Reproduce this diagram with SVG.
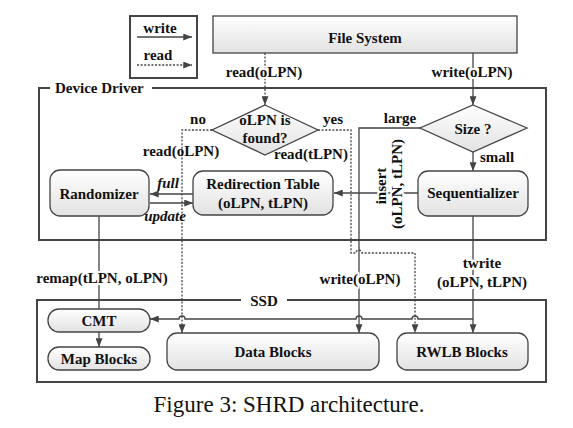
<svg xmlns="http://www.w3.org/2000/svg" width="573" height="428" viewBox="0 0 573 428">
<defs>
<linearGradient id="g" x1="0" y1="0" x2="0" y2="1">
<stop offset="0" stop-color="#ffffff"/>
<stop offset="1" stop-color="#e2e2e2"/>
</linearGradient>
<marker id="ar" viewBox="0 0 10 8" refX="10" refY="4" markerWidth="9" markerHeight="7" markerUnits="userSpaceOnUse" orient="auto">
<path d="M0,0 L10,4 L0,8 Z" fill="#444"/>
</marker>
<style>
text{font-family:"Liberation Serif","Times New Roman",serif;font-weight:bold;font-size:15px;fill:#111}
.c{text-anchor:middle}
.i{font-style:italic}
.h{stroke:#fff;stroke-width:4;paint-order:stroke;stroke-linejoin:round}
.node{fill:url(#g);stroke:#444;stroke-width:1.3}
.frame{fill:none;stroke:#444;stroke-width:2}
.w{fill:none;stroke:#444;stroke-width:1.3}
.r{fill:none;stroke:#444;stroke-width:1.3;stroke-dasharray:2,1.6}
.cap{font-weight:normal;font-size:23px;fill:#111}
</style>
</defs>

<g id="frames">
<rect class="frame" x="39" y="88" width="507" height="152"/>
<rect x="50" y="80" width="102" height="16" fill="#fff"/>
<text x="55" y="93">Device Driver</text>
<rect class="frame" x="37" y="300" width="509" height="82"/>
<rect x="241" y="292" width="46" height="16" fill="#fff"/>
<text class="c" x="264" y="306">SSD</text>
</g>

<g id="legend">
<rect x="130" y="16" width="67" height="62" fill="#fff" stroke="#444" stroke-width="2"/>
<text class="c" x="160" y="33">write</text>
<line class="w" x1="137" y1="37" x2="192" y2="37" marker-end="url(#ar)"/>
<text class="c" x="158" y="60">read</text>
<line class="r" x1="137" y1="65" x2="192" y2="65" marker-end="url(#ar)"/>
</g>

<g id="connectors">
<line class="r" x1="265" y1="53" x2="265" y2="105" marker-end="url(#ar)"/>
<line class="w" x1="473" y1="53" x2="473" y2="105" marker-end="url(#ar)"/>
<path class="r" d="M212,130 H182 V333" marker-end="url(#ar)"/>
<path class="r" d="M318,130 H351 V253 H356 A3,3 0 0 1 362,253 H415 V333" marker-end="url(#ar)"/>
<path class="w" d="M421,128 H359 V333" marker-end="url(#ar)"/>
<line class="w" x1="473" y1="152" x2="473" y2="171" marker-end="url(#ar)"/>
<line class="w" x1="418" y1="193" x2="334" y2="193" marker-end="url(#ar)"/>
<line class="w" x1="193" y1="194" x2="150" y2="194" marker-end="url(#ar)"/>
<line class="w" x1="150" y1="203" x2="193" y2="203" marker-end="url(#ar)"/>
<line class="w" x1="99" y1="216" x2="99" y2="309"/>
<line class="w" x1="99" y1="332" x2="99" y2="347" marker-end="url(#ar)"/>
<line class="w" x1="473" y1="216" x2="473" y2="333" marker-end="url(#ar)"/>
<path class="w" d="M473,319 H418 A3,3 0 0 0 412,319 H362 A3,3 0 0 0 356,319 H185 A3,3 0 0 0 179,319 H150" marker-end="url(#ar)"/>
<text class="c h" x="264" y="77">read(oLPN)</text>
<text class="c h" x="472" y="77">write(oLPN)</text>
<text class="c" x="198" y="124">no</text>
<text class="c" x="333" y="124">yes</text>
<text class="c" x="400" y="123">large</text>
<text x="480" y="162">small</text>
<text class="c" x="181" y="156">read(oLPN)</text>
<text class="c" x="311" y="159">read(tLPN)</text>
<text class="c i" x="168" y="188">full</text>
<text class="c i" x="165" y="221">update</text>
<text class="c h" transform="translate(386,186) rotate(-90)" x="0" y="0">insert</text>
<text class="c h" transform="translate(402,184) rotate(-90)" x="0" y="0">(oLPN, tLPN)</text>
<text class="c h" x="102" y="283">remap(tLPN, oLPN)</text>
<text class="c h" x="360" y="284">write(oLPN)</text>
<text class="c h" x="482" y="268">twrite</text>
<text class="c h" x="482" y="287">(oLPN, tLPN)</text>
</g>

<g id="filesystem">
<rect class="node" x="213" y="16" width="304" height="37" stroke-width="2"/>
<text class="c" x="365" y="43">File System</text>
</g>

<g id="olpn-found">
<polygon class="node" points="265,105 318,130 265,155 212,130"/>
<text class="c" x="265" y="125">oLPN is</text>
<text class="c" x="265" y="143">found?</text>
</g>

<g id="size">
<polygon class="node" points="473,105 527,128 473,152 420,128"/>
<text class="c" x="473" y="134">Size ?</text>
</g>

<g id="randomizer">
<rect class="node" x="50" y="170" width="99" height="46" rx="10"/>
<text class="c" x="99" y="199">Randomizer</text>
</g>

<g id="redirection">
<rect class="node" x="193" y="171" width="140" height="44" rx="10"/>
<text class="c" x="263" y="189">Redirection Table</text>
<text class="c" x="263" y="208">(oLPN, tLPN)</text>
</g>

<g id="sequentializer">
<rect class="node" x="418" y="171" width="110" height="45" rx="10"/>
<text class="c" x="473" y="198">Sequentializer</text>
</g>

<g id="cmt">
<rect class="node" x="48" y="309" width="102" height="23" rx="11"/>
<text class="c" x="99" y="326">CMT</text>
</g>

<g id="mapblocks">
<rect class="node" x="48" y="347" width="102" height="23" rx="11"/>
<text class="c" x="99" y="364">Map Blocks</text>
</g>

<g id="datablocks">
<rect class="node" x="167" y="333" width="212" height="37" rx="10"/>
<text class="c" x="273" y="357">Data Blocks</text>
</g>

<g id="rwlb">
<rect class="node" x="397" y="333" width="131" height="37" rx="10"/>
<text class="c" x="462" y="357">RWLB Blocks</text>
</g>

<text class="cap c" x="289" y="412">Figure 3: SHRD architecture.</text>
</svg>
